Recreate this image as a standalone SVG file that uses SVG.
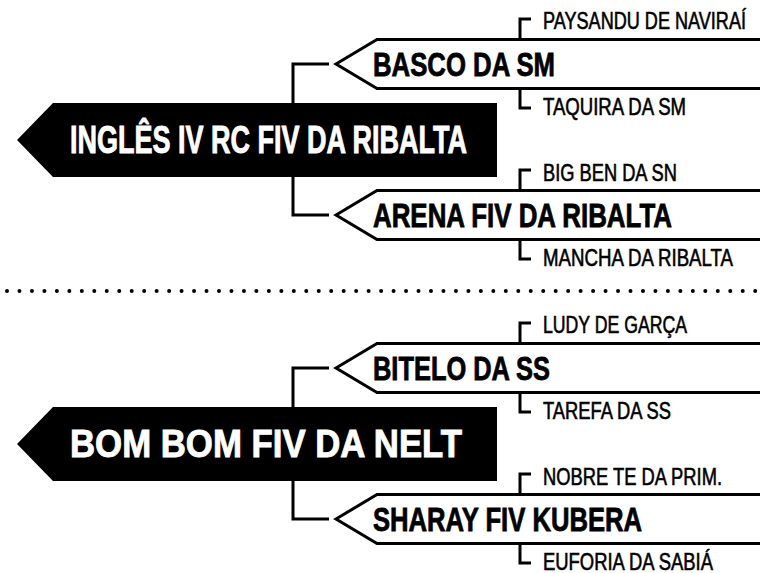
<svg xmlns="http://www.w3.org/2000/svg" width="760" height="573" viewBox="0 0 760 573">
<style>
.root{fill:#000}
.rootText{fill:#fff;stroke:#fff;stroke-width:0.9;font-family:"Liberation Sans",Arial,sans-serif;font-weight:bold;font-size:38px}
.mid{fill:#fff;stroke:#000;stroke-width:3;stroke-linejoin:miter}
.midText{fill:#000;stroke:#000;stroke-width:0.8;font-family:"Liberation Sans",Arial,sans-serif;font-weight:bold;font-size:33px}
.leafText{fill:#000;font-family:"Liberation Sans",Arial,sans-serif;font-size:23.5px;stroke:#000;stroke-width:0.6}
.conn{fill:none;stroke:#000;stroke-width:3;stroke-linecap:butt;stroke-linejoin:miter}
.dots{fill:none;stroke:#000;stroke-width:4;stroke-linecap:round;stroke-dasharray:0 12.47}
</style>
<rect width="760" height="573" fill="#fff"/>
<g id="connectors">
<path class="conn" d="M329,64 H293 V110"/>
<path class="conn" d="M293,170 V215 H329"/>
<path class="conn" d="M520,40 V19 H531"/>
<path class="conn" d="M520,88 V108 H531"/>
<path class="conn" d="M520,191 V170 H531"/>
<path class="conn" d="M520,239 V259 H531"/>
<path class="conn" d="M329,368 H293 V414"/>
<path class="conn" d="M293,474 V519 H329"/>
<path class="conn" d="M520,344 V323 H531"/>
<path class="conn" d="M520,392 V412 H531"/>
<path class="conn" d="M520,495 V474 H531"/>
<path class="conn" d="M520,543 V563 H531"/>
</g>
<line id="separator" class="dots" x1="7" y1="291" x2="760" y2="291"/>
<g id="n-ingles">
<polygon class="root" points="17,140 53,103 497,103 497,177 53,177"/>
<text class="rootText" x="70" y="153" textLength="397" lengthAdjust="spacingAndGlyphs">INGLÊS IV RC FIV DA RIBALTA</text>
</g>
<g id="n-basco">
<polygon class="mid" points="336,64 377,39.5 765,39.5 765,88.5 377,88.5"/>
<text class="midText" x="373" y="76" textLength="182" lengthAdjust="spacingAndGlyphs">BASCO DA SM</text>
</g>
<g id="n-arena">
<polygon class="mid" points="336,215 377,190.5 765,190.5 765,239.5 377,239.5"/>
<text class="midText" x="373" y="227" textLength="299" lengthAdjust="spacingAndGlyphs">ARENA FIV DA RIBALTA</text>
</g>
<g id="n-paysandu"><text class="leafText" x="543" y="29" textLength="203" lengthAdjust="spacingAndGlyphs">PAYSANDU DE NAVIRAÍ</text></g>
<g id="n-taquira"><text class="leafText" x="543" y="115" textLength="143" lengthAdjust="spacingAndGlyphs">TAQUIRA DA SM</text></g>
<g id="n-bigben"><text class="leafText" x="543" y="181" textLength="134" lengthAdjust="spacingAndGlyphs">BIG BEN DA SN</text></g>
<g id="n-mancha"><text class="leafText" x="543" y="266" textLength="190" lengthAdjust="spacingAndGlyphs">MANCHA DA RIBALTA</text></g>
<g id="n-bombom">
<polygon class="root" points="17,444 53,407 497,407 497,481 53,481"/>
<text class="rootText" x="70" y="457" textLength="392" lengthAdjust="spacingAndGlyphs">BOM BOM FIV DA NELT</text>
</g>
<g id="n-bitelo">
<polygon class="mid" points="336,368 377,343.5 765,343.5 765,392.5 377,392.5"/>
<text class="midText" x="373" y="380" textLength="177" lengthAdjust="spacingAndGlyphs">BITELO DA SS</text>
</g>
<g id="n-sharay">
<polygon class="mid" points="336,519 377,494.5 765,494.5 765,543.5 377,543.5"/>
<text class="midText" x="373" y="531" textLength="269" lengthAdjust="spacingAndGlyphs">SHARAY FIV KUBERA</text>
</g>
<g id="n-ludy"><text class="leafText" x="543" y="333" textLength="144" lengthAdjust="spacingAndGlyphs">LUDY DE GARÇA</text></g>
<g id="n-tarefa"><text class="leafText" x="543" y="419" textLength="128" lengthAdjust="spacingAndGlyphs">TAREFA DA SS</text></g>
<g id="n-nobre"><text class="leafText" x="543" y="485" textLength="179" lengthAdjust="spacingAndGlyphs">NOBRE TE DA PRIM.</text></g>
<g id="n-euforia"><text class="leafText" x="543" y="570" textLength="170" lengthAdjust="spacingAndGlyphs">EUFORIA DA SABIÁ</text></g>
</svg>
